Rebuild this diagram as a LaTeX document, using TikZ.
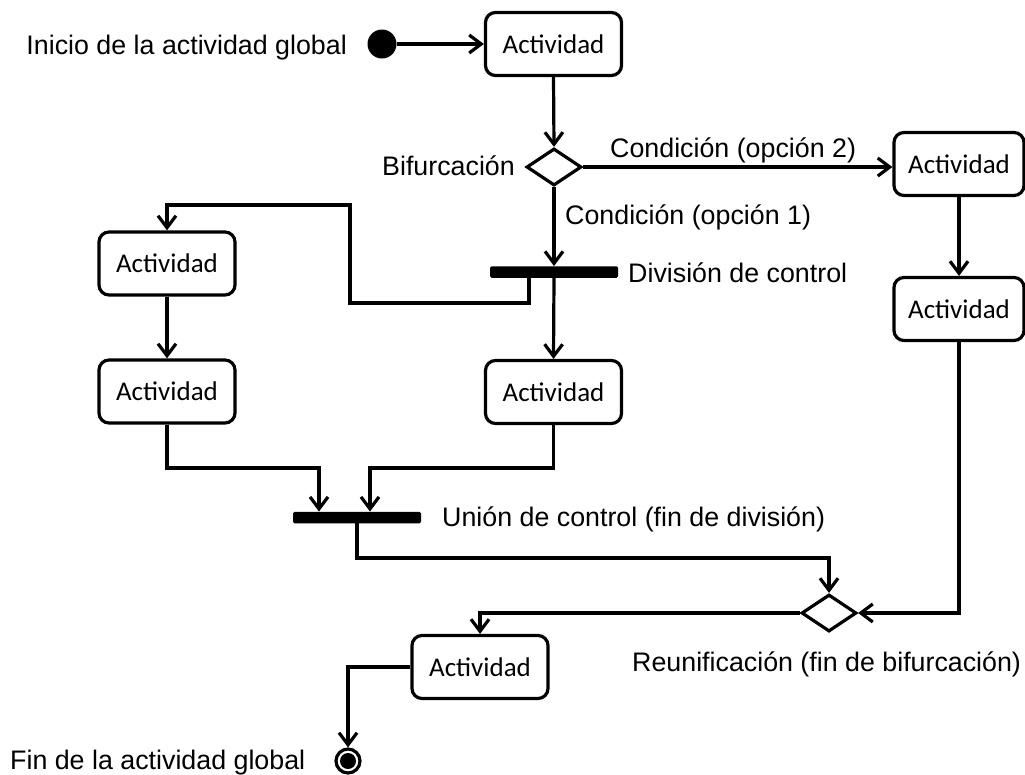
\documentclass[tikz,border=0pt]{standalone}
\usepackage{fontspec}
\setmainfont{Liberation Sans}
\newfontfamily\actfont{Carlito}
\usetikzlibrary{arrows.meta,shapes.geometric}
\tikzset{
  act/.style={draw, line width=3.2pt, rounded corners=10pt, minimum width=136pt, minimum height=63pt, inner sep=0pt, font=\actfont\fontsize{27}{30}\selectfont},
  actR/.style={act, minimum width=130pt},
  barnode/.style={fill=black, rounded corners=1.5pt, minimum width=128pt, minimum height=11.5pt, inner sep=0pt},
  decision/.style={diamond, draw, line width=3.2pt, minimum width=55pt, minimum height=37pt, inner sep=0pt},
  lbl/.style={inner sep=0pt, font=\fontsize{26.8}{30}\selectfont},
  flow/.style={line width=3.2pt, -{Straight Barb[length=12pt,width=18pt]}},
}
\begin{document}
\begin{tikzpicture}[x=1pt,y=-1pt]
\useasboundingbox (0,0) rectangle (1025,774);
% nodes
\node[circle, fill=black, minimum size=29pt, inner sep=0pt] (start) at (382,44) {};
\node[act] (A1) at (553.5,44) {Actividad};
\node[decision] (D1) at (554,167) {};
\node[actR] (AR1) at (959,164) {Actividad};
\node[actR] (AR2) at (959,309) {Actividad};
\node[barnode] (bar1) at (554,272) {};
\node[act] (AL1) at (167,263.5) {Actividad};
\node[act] (AL2) at (167,391.5) {Actividad};
\node[act] (AM) at (553.5,392) {Actividad};
\node[barnode] (bar2) at (357,517.5) {};
\node[decision] (D2) at (829,613) {};
\node[act] (AB) at (480,667) {Actividad};
\node[circle, draw, line width=3.2pt, minimum size=24pt, inner sep=0pt] (end) at (348,761) {};
\fill (end) circle (8);
% labels
\node[lbl, anchor=base east] (tInicio) at (347,54) {Inicio de la actividad global};
\node[lbl, anchor=base west] (tBif) at (382,175) {Bifurcación};
\node[lbl, anchor=base west] (tC2) at (610,157) {Condición (opción 2)};
\node[lbl, anchor=base west] (tC1) at (565,224) {Condición (opción 1)};
\node[lbl, anchor=base west] (tDiv) at (628,282) {División de control};
\node[lbl, anchor=base west] (tUni) at (442,526) {Unión de control (fin de división)};
\node[lbl, anchor=base west] (tReu) at (632,671) {Reunificación (fin de bifurcación)};
\node[lbl, anchor=base west] (tFin) at (10,769) {Fin de la actividad global};
% coordinates
\coordinate (l1) at (350,303);
\coordinate (l2) at (350,205);
\coordinate (j1) at (319,468);
\coordinate (j2) at (370,468);
\coordinate (j3) at (357,558);
% connectors
\draw[flow] (start) -- (A1.west);
\draw[flow] (A1.south) -- (D1.north);
\draw[flow] (D1.east) -- (D1.east -| AR1.west);
\draw[flow] (D1.south) -- (bar1.north);
\draw[flow] (AR1.south) -- (AR2.north);
\draw[flow] (bar1.south) -- (AM.north);
\draw[flow] ([xshift=-25pt]bar1.south) |- (l1) -- (l2) -| (AL1.north);
\draw[flow] (AL1.south) -- (AL2.north);
\draw[flow] (AL2.south) |- (j1) -- (j1 |- bar2.north);
\draw[flow] (AM.south) |- (j2) -- (j2 |- bar2.north);
\draw[flow] (bar2.south) -- (j3) -| (D2.north);
\draw[flow] (AR2.south) |- (D2.east);
\draw[flow] (D2.west) -| (AB.north);
\draw[flow] (AB.west) -| (end.north);
\end{tikzpicture}
\end{document}
